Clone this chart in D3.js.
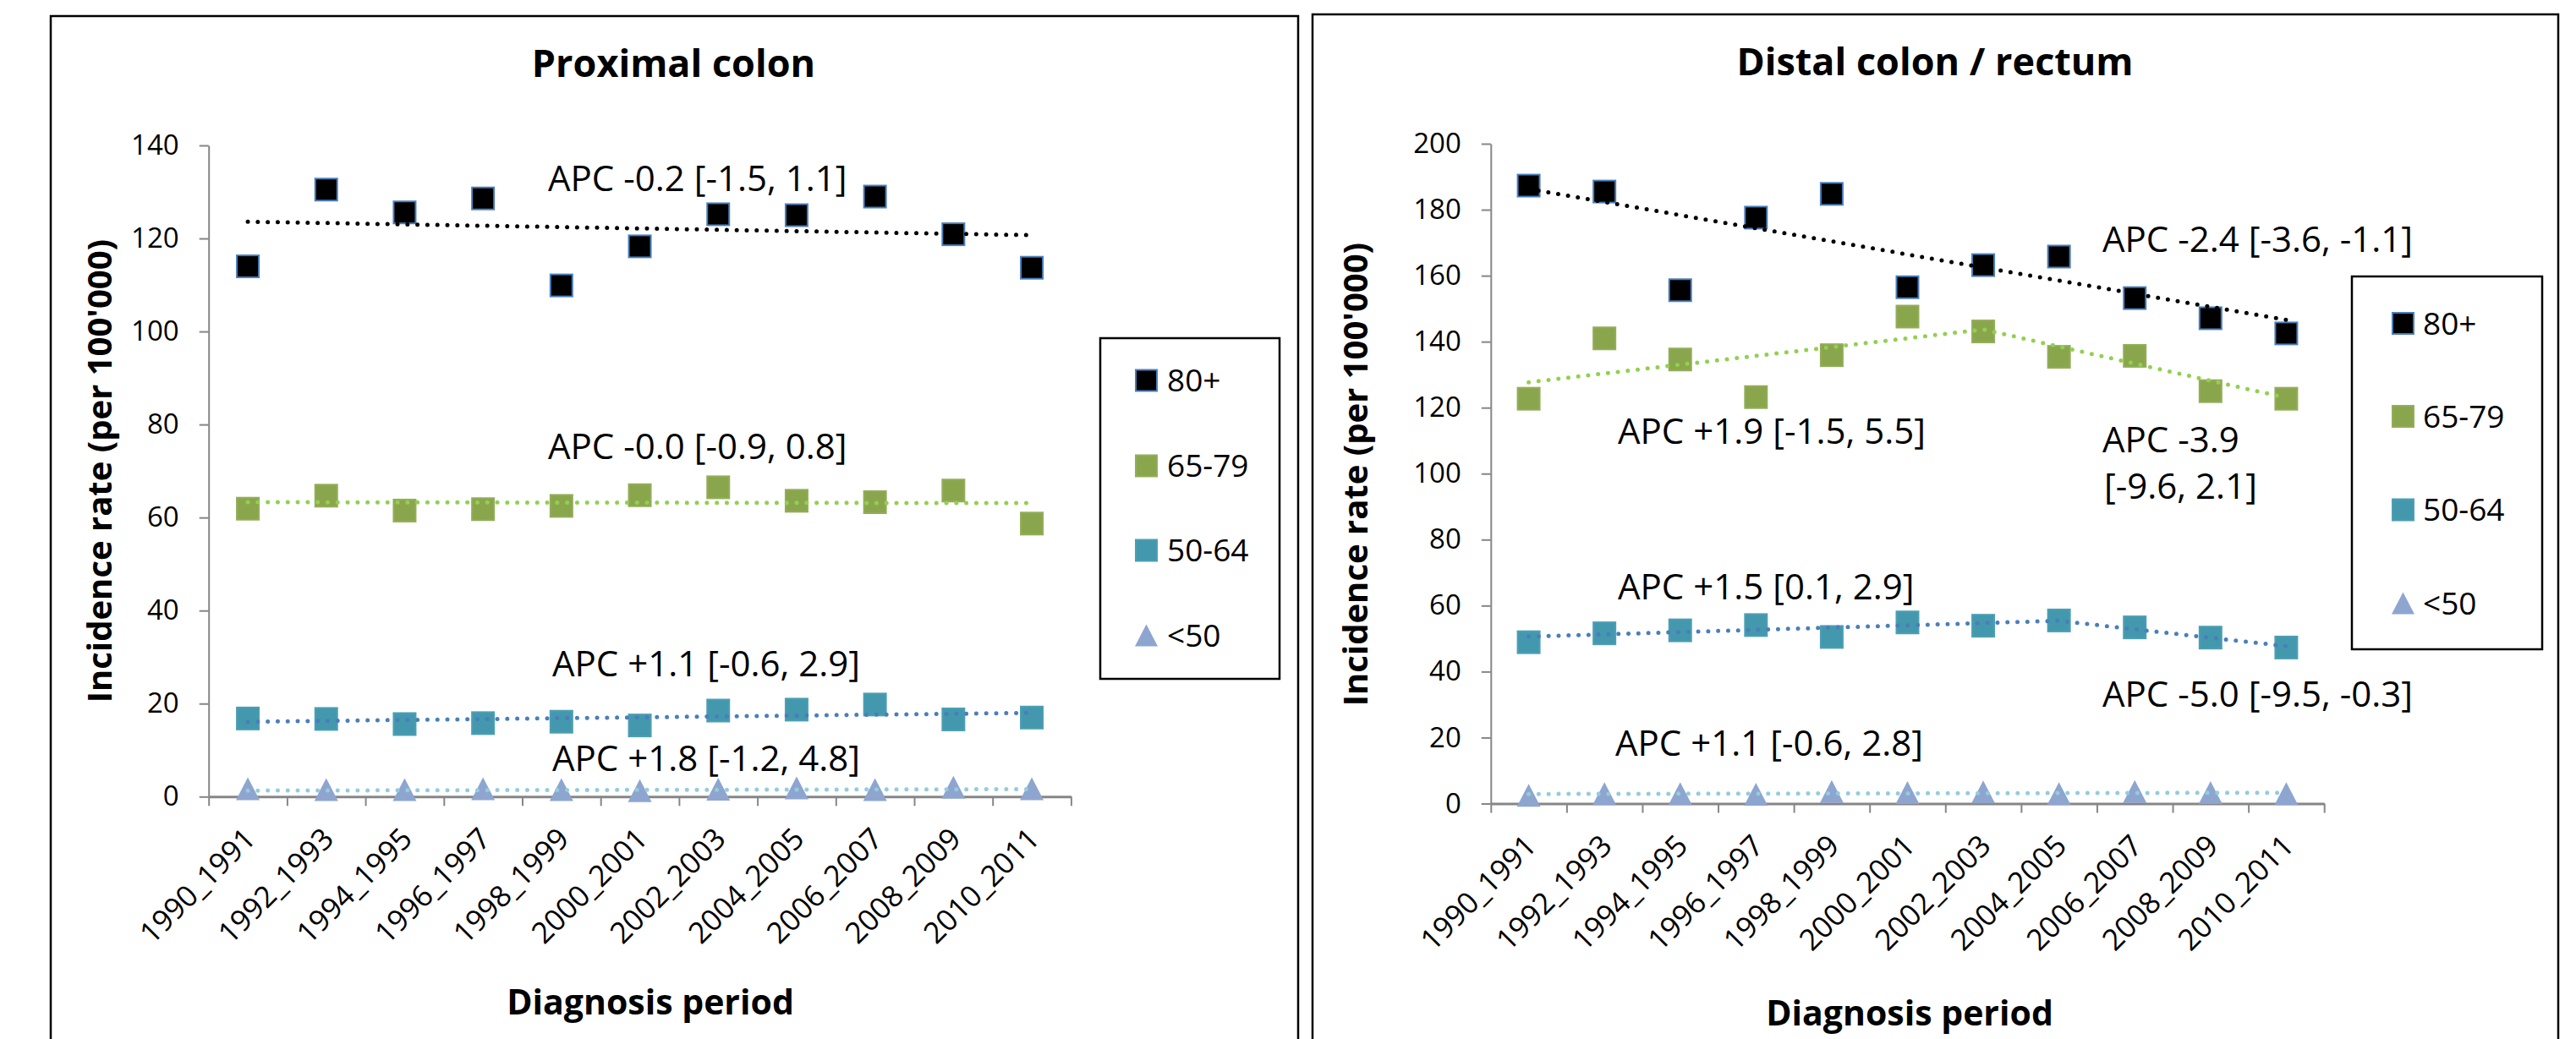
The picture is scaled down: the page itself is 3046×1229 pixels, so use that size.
<!DOCTYPE html>
<html>
<head>
<meta charset="utf-8">
<script src="https://cdn.jsdelivr.net/npm/d3@7"></script>
<style>
  body { margin: 0; background: #fff; }
  svg { display: block; font-family: "Open Sans", sans-serif; }
</style>
</head>
<body>
<div id="chart"></div>
<script>
// categories (diagnosis periods)
const periods = ["1990_1991", "1992_1993", "1994_1995", "1996_1997", "1998_1999", "2000_2001",
                 "2002_2003", "2004_2005", "2006_2007", "2008_2009", "2010_2011"];
const ageGroups = ["80+", "65-79", "50-64", "<50"];

// Proximal colon, rates per 100'000
const proxAge80 = [114.0, 130.5, 125.6, 128.6, 109.9, 118.3, 125.2, 125.0, 129.0, 120.9, 113.7];
const proxAge65 = [61.9, 64.7, 61.5, 61.8, 62.5, 64.8, 66.5, 63.6, 63.3, 65.8, 58.7];
const proxAge50 = [16.8, 16.7, 15.6, 15.8, 16.1, 15.3, 18.5, 18.7, 19.8, 16.6, 17.0];
const proxAgeU50 = [1.6, 1.4, 1.4, 1.6, 1.4, 1.2, 1.5, 1.8, 1.4, 1.9, 1.6];
// trend lines: [period index, fitted value]
const proxTrend80 = [[0, 123.6], [10, 120.7]];
const proxTrend65 = [[0, 63.3], [10, 63.1]];
const proxTrend50 = [[0, 16.1], [10, 18.0]];
const proxTrendU50 = [[0, 1.3], [10, 1.6]];
const proxApc = ["APC -0.2 [-1.5, 1.1]", "APC -0.0 [-0.9, 0.8]", "APC +1.1 [-0.6, 2.9]", "APC +1.8 [-1.2, 4.8]"];
const proxTicks = [0, 20, 40, 60, 80, 100, 120, 140];

// Distal colon / rectum
const distAge80 = [187.3, 185.5, 155.6, 177.6, 184.8, 156.5, 163.2, 165.8, 153.2, 147.1, 142.5];
const distAge65 = [122.7, 141.0, 134.6, 123.2, 135.9, 147.6, 143.1, 135.4, 135.7, 125.0, 122.7];
const distAge50 = [48.9, 51.6, 52.5, 54.1, 50.5, 54.9, 53.9, 55.5, 53.4, 50.3, 47.3];
const distAgeU50 = [2.4, 2.9, 2.9, 2.7, 3.5, 3.2, 3.4, 2.9, 3.5, 3.2, 2.9];
const distTrend80 = [[0, 186.3], [10, 146.6]];
const distTrend65 = [[0, 127.7], [6, 143.7], [10, 123.0]];
const distTrend50 = [[0, 50.6], [7, 55.4], [10, 47.7]];
const distTrendU50 = [[0, 2.9], [10, 3.3]];
const distApc = ["APC -2.4 [-3.6, -1.1]", "APC +1.9 [-1.5, 5.5]", "APC -3.9", "[-9.6, 2.1]",
                 "APC +1.5 [0.1, 2.9]", "APC -5.0 [-9.5, -0.3]", "APC +1.1 [-0.6, 2.8]"];
const distTicks = [0, 20, 40, 60, 80, 100, 120, 140, 160, 180, 200];

const styles = [
    {fill: "#000000", stroke: "#4a7ebb", line: "#000000", shape: "square"},
    {fill: "#8aa64c", stroke: "#93ad5a", line: "#92d050", shape: "square"},
    {fill: "#4398ae", stroke: "#4c9fb4", line: "#4a7ebb", shape: "square"},
    {fill: "#8ea5cf", stroke: "#8ea5cf", line: "#92cddc", shape: "triangle"}
];

const svg = d3.select("#chart").append("svg")
    .attr("width", 3046)
    .attr("height", 1229);

function drawMarker(g, shape, cx, cy, st, size) {
    const h = size / 2;
    if (shape === "square") {
        g.append("rect")
            .attr("x", cx - h).attr("y", cy - h)
            .attr("width", size).attr("height", size)
            .attr("fill", st.fill)
            .attr("stroke", st.stroke)
            .attr("stroke-width", 2);
    } else {
        g.append("path")
            .attr("d", `M${cx},${cy - h - 1}L${cx + h + 1},${cy + h}L${cx - h - 1},${cy + h}Z`)
            .attr("fill", st.fill);
    }
}

function drawPanel(p) {
    // panel frame (runs off the bottom of the picture)
    svg.append("rect")
        .attr("x", p.frame[0]).attr("y", p.frame[1])
        .attr("width", p.frame[2]).attr("height", 1300)
        .attr("fill", "none").attr("stroke", "#000").attr("stroke-width", 2.5);

    const x = d3.scaleBand().domain(periods).range([p.x0, p.x1]);
    const xi = i => x(periods[i]) + x.bandwidth() / 2;
    const edge = d3.scaleLinear().domain([0, periods.length]).range([p.x0, p.x1]);
    const y = d3.scaleLinear().domain([0, p.yMax]).range([p.y0, p.yTop]);

    // y axis
    const ya = svg.append("g")
        .attr("transform", `translate(${p.x0},0)`)
        .call(d3.axisLeft(y).tickValues(p.ticks).tickSize(11).tickSizeOuter(0).tickPadding(24));
    ya.select(".domain").attr("stroke", "#868686").attr("stroke-width", 2);
    ya.selectAll(".tick line").attr("stroke", "#868686").attr("stroke-width", 2);
    ya.selectAll(".tick text").attr("font-size", 33).attr("font-family", "Open Sans").attr("fill", "#000");

    // x axis, ticks between categories
    const xa = svg.append("g")
        .attr("transform", `translate(0,${p.y0})`)
        .call(d3.axisBottom(edge).tickValues(d3.range(periods.length + 1))
            .tickSize(11).tickSizeOuter(0).tickFormat(""));
    xa.select(".domain").attr("stroke", "#868686").attr("stroke-width", 3);
    xa.selectAll(".tick line").attr("stroke", "#868686").attr("stroke-width", 2);

    svg.append("g").selectAll("text")
        .data(periods)
        .enter().append("text")
        .attr("transform", d => `translate(${x(d) + x.bandwidth() / 2 + 11},${p.y0 + 52}) rotate(-45)`)
        .attr("text-anchor", "end")
        .attr("font-size", 35)
        .text(d => d);

    // markers
    p.series.forEach((vals, k) => {
        const g = svg.append("g");
        vals.forEach((v, i) => drawMarker(g, styles[k].shape, xi(i), y(v), styles[k], 26));
    });

    // dotted trend lines
    const line = d3.line().x(d => xi(d[0])).y(d => y(d[1]));
    p.trends.forEach((t, k) => {
        svg.append("path")
            .datum(t)
            .attr("d", line)
            .attr("fill", "none")
            .attr("stroke", styles[k].line)
            .attr("stroke-width", 5)
            .attr("stroke-linecap", "round")
            .attr("stroke-dasharray", "0 11.8");
    });

    // APC labels
    p.apc.forEach((txt, i) => {
        svg.append("text")
            .attr("x", p.apcPos[i][0]).attr("y", p.apcPos[i][1])
            .attr("font-size", 42)
            .text(txt);
    });

    // titles
    svg.append("text")
        .attr("x", p.title[1]).attr("y", p.title[2])
        .attr("text-anchor", "middle").attr("font-size", 45).attr("font-weight", "bold")
        .text(p.title[0]);
    svg.append("text")
        .attr("transform", `translate(${p.yTitle[0]},${p.yTitle[1]}) rotate(-90)`)
        .attr("text-anchor", "middle").attr("font-size", 40).attr("font-weight", "bold")
        .text("Incidence rate (per 100'000)");
    svg.append("text")
        .attr("x", p.xTitle[0]).attr("y", p.xTitle[1])
        .attr("text-anchor", "middle").attr("font-size", 41).attr("font-weight", "bold")
        .text("Diagnosis period");

    // legend
    const lg = p.legend;
    svg.append("rect")
        .attr("x", lg.x).attr("y", lg.y).attr("width", lg.w).attr("height", lg.h)
        .attr("fill", "#fff").attr("stroke", "#000").attr("stroke-width", 2.5);
    ageGroups.forEach((name, k) => {
        const g = svg.append("g");
        drawMarker(g, styles[k].shape, lg.mx, lg.rows[k], styles[k], 25);
        g.append("text")
            .attr("x", lg.tx).attr("y", lg.rows[k] + 13)
            .attr("font-size", 37)
            .text(name);
    });
}

drawPanel({
    frame: [60, 19, 1475],
    x0: 246.7, x1: 1266.4, y0: 942.3, yTop: 172, yMax: 140, ticks: proxTicks,
    series: [proxAge80, proxAge65, proxAge50, proxAgeU50],
    trends: [proxTrend80, proxTrend65, proxTrend50, proxTrendU50],
    apc: proxApc,
    apcPos: [[648, 226], [648, 543], [653, 800], [653, 912]],
    title: ["Proximal colon", 796.5, 91],
    yTitle: [132, 557],
    xTitle: [769, 1200],
    legend: {x: 1301, y: 400, w: 212, h: 403, mx: 1355.5, tx: 1380, rows: [450, 551, 651, 752]}
});

drawPanel({
    frame: [1552, 17, 1473],
    x0: 1762.8, x1: 2748.2, y0: 950.5, yTop: 170, yMax: 200, ticks: distTicks,
    series: [distAge80, distAge65, distAge50, distAgeU50],
    trends: [distTrend80, distTrend65, distTrend50, distTrendU50],
    apc: distApc,
    apcPos: [[2486, 298], [1913, 525], [2486, 535], [2488, 590], [1913, 709], [2486, 836], [1910, 894]],
    title: ["Distal colon / rectum", 2288, 88.5],
    yTitle: [1617, 561],
    xTitle: [2258, 1213],
    legend: {x: 2781, y: 327, w: 225, h: 441, mx: 2841.5, tx: 2865, rows: [382.5, 492.5, 603, 714]}
});
</script>
</body>
</html>
